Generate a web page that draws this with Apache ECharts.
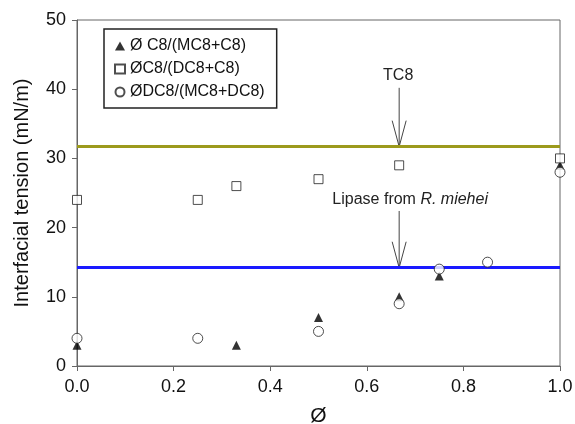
<!DOCTYPE html>
<html>
<head>
<meta charset="utf-8">
<script src="https://cdn.jsdelivr.net/npm/echarts@6/dist/echarts.min.js"></script>
<style>
  html, body { margin: 0; padding: 0; background: #fff; }
  #chart { width: 575px; height: 424px; }
</style>
</head>
<body>
<div id="chart"></div>
<script>
const seriesNames = ['Ø C8/(MC8+C8)', 'ØC8/(DC8+C8)', 'ØDC8/(MC8+DC8)'];
const mcC8 = [[0, 3], [0.33, 3], [0.5, 7], [0.667, 10], [0.75, 13], [1.0, 29]];
const dcC8 = [[0, 24], [0.25, 24], [0.33, 26], [0.5, 27], [0.667, 29], [1.0, 30]];
const mcDc8 = [[0, 4], [0.25, 4], [0.5, 5], [0.667, 9], [0.75, 14], [0.85, 15], [1.0, 28]];
const tc8Level = 31.7;
const lipaseLevel = 14.2;
// [x, arrow start, arrow tip, label y]
const arrows = [
  [0.667, 40.2, tc8Level, 41.9],
  [0.667, 22.4, lipaseLevel, 24.0]
];
const arrowLabels = ['TC8', 'Lipase from {i|R. miehei}'];
const labelOffsets = [-1, 11];

const font = 'Liberation Sans, Arial, sans-serif';
const chart = echarts.init(document.getElementById('chart'));

function renderArrow(params, api) {
  const start = api.coord([api.value(0), api.value(1)]);
  const tip = api.coord([api.value(0), api.value(2)]);
  const textPos = api.coord([api.value(0), api.value(3)]);
  const i = params.dataIndex;
  return {
    type: 'group',
    children: [
      {
        type: 'polyline',
        shape: {points: [start, tip]},
        style: {stroke: '#444', lineWidth: 1, fill: null}
      },
      {
        type: 'polyline',
        shape: {points: [[tip[0] - 7, tip[1] - 26], tip, [tip[0] + 7, tip[1] - 26]]},
        style: {stroke: '#444', lineWidth: 1, fill: null}
      },
      {
        type: 'text',
        x: textPos[0] + labelOffsets[i],
        y: textPos[1],
        style: {
          text: arrowLabels[i],
          fontSize: 16,
          fontFamily: font,
          fill: '#222',
          align: 'center',
          verticalAlign: 'middle',
          rich: {i: {fontStyle: 'italic', fontSize: 16, fontFamily: font, fill: '#222'}}
        }
      }
    ]
  };
}

chart.setOption({
  animation: false,
  textStyle: {fontFamily: font},
  grid: {
    left: 77, right: 15, top: 20, bottom: 58,
    outerBoundsMode: 'none',
    containLabel: false,
    show: true, borderColor: '#666', borderWidth: 1
  },
  legend: {
    orient: 'vertical',
    left: 104,
    top: 29,
    padding: [9, 12, 8, 10],
    itemGap: 7,
    itemWidth: 10,
    itemHeight: 9,
    borderColor: '#222',
    borderWidth: 1.5,
    textStyle: {fontSize: 16, color: '#111', fontFamily: font},
    data: seriesNames
  },
  xAxis: {
    type: 'value',
    min: 0,
    max: 1,
    interval: 0.2,
    name: 'Ø',
    nameLocation: 'middle',
    nameGap: 40,
    nameTextStyle: {fontSize: 21, color: '#111'},
    axisLine: {lineStyle: {color: '#666'}},
    axisTick: {show: true, length: 5, lineStyle: {color: '#666'}},
    axisLabel: {fontSize: 18, color: '#111', margin: 12, formatter: v => v.toFixed(1)},
    splitLine: {show: false}
  },
  yAxis: {
    type: 'value',
    min: 0,
    max: 50,
    interval: 10,
    name: 'Interfacial tension (mN/m)',
    nameLocation: 'middle',
    nameGap: 45,
    nameTextStyle: {fontSize: 20, color: '#111'},
    axisLine: {lineStyle: {color: '#666'}},
    axisTick: {show: true, length: 5, lineStyle: {color: '#666'}},
    axisLabel: {fontSize: 18, color: '#111', margin: 11},
    splitLine: {show: false}
  },
  series: [
    {
      name: seriesNames[0],
      type: 'scatter',
      symbol: 'triangle',
      symbolSize: 9,
      itemStyle: {color: '#000'},
      data: mcC8,
      markLine: {
        silent: true,
        symbol: 'none',
        label: {show: false},
        data: [
          {yAxis: tc8Level, lineStyle: {color: '#9c9a1c', width: 3, type: 'solid'}},
          {yAxis: lipaseLevel, lineStyle: {color: '#1a1aff', width: 3, type: 'solid'}}
        ]
      },
      z: 5
    },
    {
      name: seriesNames[1],
      type: 'scatter',
      symbol: 'rect',
      symbolSize: 9,
      itemStyle: {color: '#fff', borderColor: '#222', borderWidth: 1},
      data: dcC8,
      z: 5
    },
    {
      name: seriesNames[2],
      type: 'scatter',
      symbol: 'circle',
      symbolSize: 10,
      itemStyle: {color: '#fff', borderColor: '#222', borderWidth: 1},
      data: mcDc8,
      z: 6
    },
    {
      type: 'custom',
      renderItem: renderArrow,
      data: arrows,
      clip: false,
      silent: true,
      z: 4
    }
  ]
});
</script>
</body>
</html>
